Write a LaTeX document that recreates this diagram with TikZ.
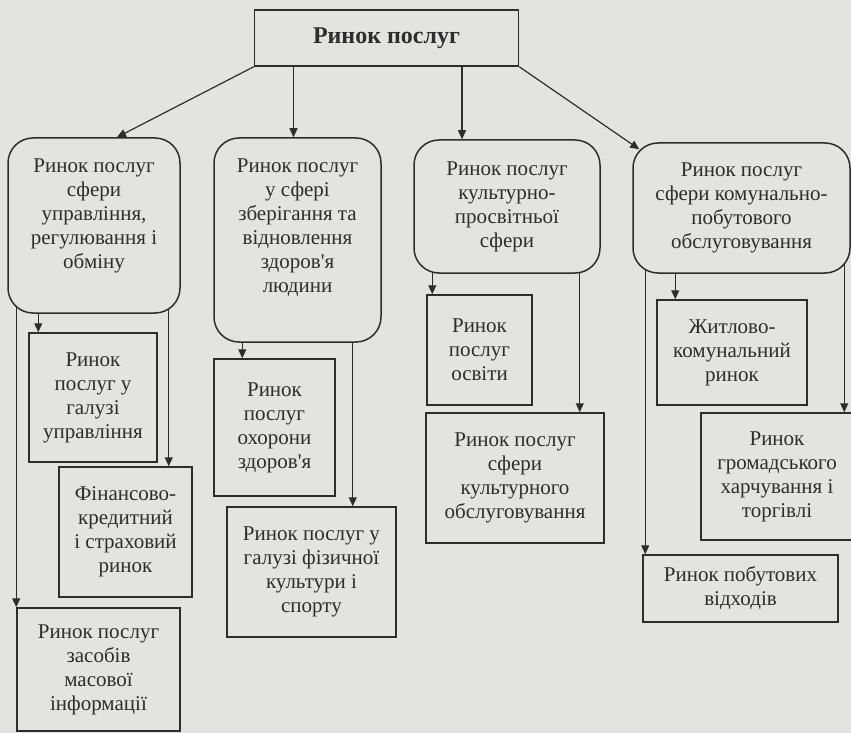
\documentclass[tikz,border=0pt]{standalone}
\usepackage{fontspec}
\setmainfont{Liberation Serif}
\usetikzlibrary{arrows.meta,backgrounds}
\definecolor{paper}{RGB}{227,227,225}
\definecolor{ink}{RGB}{45,45,45}

\begin{document}
\begin{tikzpicture}[x=1pt,y=-1pt,
  box/.style={draw=ink,fill=paper,line width=1.5pt,inner sep=0pt,align=center,text=ink,font=\fontsize{21}{24}\selectfont},
  rbox/.style={box,rounded corners=25pt},
  arr/.style={draw=ink,line width=1.2pt,-{Triangle[length=9pt,width=8pt]}}]

\useasboundingbox (0,0) rectangle (851,733);

\node[box,minimum width=264pt,minimum height=56pt,font=\fontsize{24}{28}\selectfont\bfseries] (rynok) at (386.5,38) {Ринок послуг};

\node[rbox,minimum width=172pt,minimum height=175pt,text depth=24pt] (upr) at (94,225.5) {Ринок послуг\\сфери\\управління,\\регулювання і\\обміну};
\node[rbox,minimum width=167pt,minimum height=204pt,text depth=28pt] (zdor) at (297.5,240) {Ринок послуг\\у сфері\\зберігання та\\відновлення\\здоров\textquotesingle я\\людини};
\node[rbox,minimum width=186pt,minimum height=133pt] (kult) at (507,206.5) {Ринок послуг\\культурно-\\просвітньої\\сфери};
\node[rbox,minimum width=217pt,minimum height=130pt] (komun) at (741.5,208) {Ринок послуг\\сфери комунально-\\побутового\\обслуговування};

\node[box,minimum width=128pt,minimum height=129pt] (uprgal) at (93,397.5) {Ринок\\послуг у\\галузі\\управління};
\node[box,minimum width=133pt,minimum height=130pt] (fin) at (125.5,532) {Фінансово-\\кредитний\\і страховий\\ринок};
\node[box,minimum width=163pt,minimum height=123pt] (zmi) at (98.5,669.5) {Ринок послуг\\засобів\\масової\\інформації};

\node[box,minimum width=121pt,minimum height=137pt] (okhor) at (274.5,427.5) {Ринок\\послуг\\охорони\\здоров\textquotesingle я};
\node[box,minimum width=169pt,minimum height=130pt] (sport) at (311.5,572) {Ринок послуг у\\галузі фізичної\\культури і\\спорту};

\node[box,minimum width=105pt,minimum height=110pt] (osv) at (479.5,350) {Ринок\\послуг\\освіти};
\node[box,minimum width=178pt,minimum height=130pt] (kultobs) at (515,478) {Ринок послуг\\сфери\\культурного\\обслуговування};

\node[box,minimum width=150pt,minimum height=105pt] (zhytl) at (732,352.5) {Житлово-\\комунальний\\ринок};
\node[box,minimum width=152pt,minimum height=127pt] (kharch) at (777,476.5) {Ринок\\громадського\\харчування і\\торгівлі};
\node[box,minimum width=195pt,minimum height=67pt] (vidkh) at (740.5,588.5) {Ринок побутових\\відходів};

\begin{scope}[on background layer]
\fill[paper] (0,0) rectangle (851,733);

\draw[arr] (rynok.south west) -- ([xshift=23pt]upr.north);
\draw[arr] ([xshift=-4pt]zdor.north |- rynok.center) -- ([xshift=-4pt]zdor.north);
\draw[arr] ([xshift=-45pt]kult.north |- rynok.center) -- ([xshift=-45pt]kult.north);
\draw[arr] (rynok.south east) -- ([xshift=7pt,yshift=-7pt]komun.north west);

\draw[arr] ([xshift=10pt]uprgal.north west |- upr.center) -- ([xshift=10pt]uprgal.north west);
\draw[arr] ([xshift=-24pt]fin.north east |- upr.center) -- ([xshift=-24pt]fin.north east);
\draw[arr] (zmi.north west |- upr.center) -- (zmi.north west);

\draw[arr] ([xshift=29pt]okhor.north west |- zdor.center) -- ([xshift=29pt]okhor.north west);
\draw[arr] ([xshift=-44pt]sport.north east |- zdor.center) -- ([xshift=-44pt]sport.north east);

\draw[arr] ([xshift=6pt]osv.north west |- kult.center) -- ([xshift=6pt]osv.north west);
\draw[arr] ([xshift=-25pt]kultobs.north east |- kult.center) -- ([xshift=-25pt]kultobs.north east);

\draw[arr] ([xshift=19pt]zhytl.north west |- komun.center) -- ([xshift=19pt]zhytl.north west);
\draw[arr] ([xshift=144pt]kharch.north west |- komun.center) -- ([xshift=144pt]kharch.north west);
\draw[arr] ([xshift=3pt]vidkh.north west |- komun.center) -- ([xshift=3pt]vidkh.north west);
\end{scope}

\end{tikzpicture}
\end{document}
